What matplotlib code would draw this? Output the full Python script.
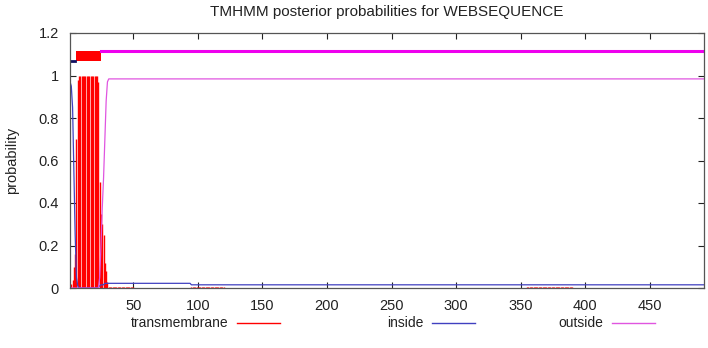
import matplotlib
matplotlib.use('Agg')
import matplotlib.pyplot as plt
import numpy as np

# ================= Data ===============
seq_len = 492

# per-residue values at the N-terminus (residues 1..31)
head_tm = [0.01, 0.02, 0.04, 0.10, 0.16, 0.70, 0.98, 1.0, 1.0, 1.0,
           1.0, 1.0, 1.0, 1.0, 1.0, 1.0, 1.0, 1.0, 1.0, 1.0,
           1.0, 1.0, 0.97, 0.50, 0.35, 0.30, 0.25, 0.12, 0.08, 0.03,
           0.006]
head_inside = [0.97, 0.95, 0.85, 0.55, 0.25, 0.05, 0.01, 0.0, 0.0, 0.0,
               0.0, 0.0, 0.0, 0.0, 0.0, 0.0, 0.0, 0.0, 0.0, 0.0,
               0.0, 0.0, 0.005, 0.01, 0.015, 0.015, 0.015, 0.022, 0.022, 0.022,
               0.022]
head_outside = [0.0, 0.0, 0.0, 0.0, 0.0, 0.0, 0.0, 0.0, 0.0, 0.0,
                0.0, 0.0, 0.0, 0.0, 0.0, 0.0, 0.0, 0.0, 0.0, 0.0,
                0.0, 0.0, 0.0, 0.05, 0.20, 0.38, 0.52, 0.70, 0.88, 0.97,
                0.984]

# flat stretches after residue 31: (first, last, value)
tm_runs = [(32, 50, 0.006), (51, 94, 0.0), (95, 120, 0.006),
           (121, 354, 0.0), (355, 390, 0.006), (391, 492, 0.0)]
inside_runs = [(32, 94, 0.022), (95, 492, 0.015)]
outside_runs = [(32, 492, 0.984)]

# predicted topology segments
inside_seg = (1, 5)
tm_seg = (6, 25)
outside_seg = (25, 492)


def expand(head, runs):
    vals = list(head)
    for first, last, v in runs:
        vals += [v] * (last - first + 1)
    return np.array(vals)


pos = np.arange(1, seq_len + 1)
tm = expand(head_tm, tm_runs)
inside = expand(head_inside, inside_runs)
outside = expand(head_outside, outside_runs)

# ================= Plot ===============
plt.rcParams['font.family'] = ['Liberation Sans', 'DejaVu Sans']

fig = plt.figure(figsize=(7.08, 3.48), dpi=100)
ax = fig.add_axes([70 / 708, 1 - 288 / 348, 634 / 708, 255 / 348])

red = '#ff0000'
blue = '#4040c0'
pink = '#e055e0'

ax.vlines(pos, 0, tm, color=red, linewidth=1.0)
ax.plot(pos, inside, color=blue, linewidth=0.9)
ax.plot(pos, outside, color=pink, linewidth=0.9)

# topology bars on top
ax.plot(inside_seg, [1.07, 1.07], color='#101060', linewidth=2)
ax.fill_between([tm_seg[0] - 0.5, tm_seg[1]], 1.07, 1.115, color=red, linewidth=0)
ax.plot(outside_seg, [1.113, 1.113], color='#ee00ee', linewidth=2.2)

ax.set_xlim(1, seq_len)
ax.set_ylim(0, 1.2)
ax.set_xticks(np.arange(50, 500, 50))
ax.set_yticks([0, 0.2, 0.4, 0.6, 0.8, 1.0, 1.2])
ax.set_yticklabels(['0', '0.2', '0.4', '0.6', '0.8', '1', '1.2'])
ax.tick_params(direction='in', top=True, right=True, length=4, width=0.8,
               labelsize=10.5, colors='#222222', pad=8)
for s in ax.spines.values():
    s.set_color('#555555')
    s.set_linewidth(0.9)

ax.set_ylabel('probability', fontsize=10.5, color='#222222', labelpad=14)
ax.set_title('TMHMM posterior probabilities for WEBSEQUENCE', fontsize=11,
             color='#222222', pad=12)

# legend row under the axes
legend_items = [('transmembrane', red, 228, 237), ('inside', blue, 423, 432),
                ('outside', pink, 603, 612)]
for label, col, tx, lx in legend_items:
    fig.text(tx / 708, 1 - 323 / 348, label, ha='right', va='center',
             fontsize=10, color='#222222')
    fig.add_artist(plt.Line2D([lx / 708, (lx + 43) / 708],
                              [1 - 323 / 348, 1 - 323 / 348],
                              color=col, linewidth=1.0,
                              transform=fig.transFigure))

fig.savefig('out.png', dpi=100)
